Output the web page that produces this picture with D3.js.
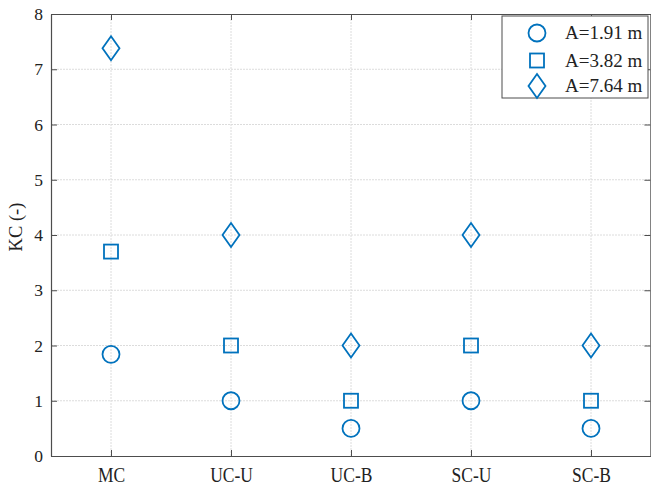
<!DOCTYPE html>
<html>
<head>
<meta charset="utf-8">
<script src="https://cdn.jsdelivr.net/npm/d3@7"></script>
<style>
  html, body { margin: 0; padding: 0; background: #fff; }
  svg { display: block; }
</style>
</head>
<body>
<svg id="chart" width="651" height="487"></svg>
<script>
// Configurations along the x axis
const categories = ["MC", "UC-U", "UC-B", "SC-U", "SC-B"];
// KC values for each amplitude
const kcA191 = [1.84, 1, 0.5, 1, 0.5];
const kcA382 = [3.70, 2, 1, 2, 1];
const kcA764 = [7.38, 4, 2, 4, 2];
const seriesNames = ["A=1.91 m", "A=3.82 m", "A=7.64 m"];
const yTicks = [0, 1, 2, 3, 4, 5, 6, 7, 8];

const svg = d3.select("#chart");
const W = 651, H = 487;
const m = { left: 51, right: 0, top: 14, bottom: 31 };
const color = "#0072BD";
const axisColor = "#4d4d4d";
const font = "'Liberation Serif', 'Times New Roman', serif";

const x = d3.scaleLinear().domain([0.5, categories.length + 0.5]).range([m.left, W - m.right]);
const y = d3.scaleLinear().domain([0, 8]).range([H - m.bottom, m.top]);

const g = svg.append("g");

// grid
g.append("g").selectAll("line").data(categories).join("line")
  .attr("x1", (d, i) => x(i + 1)).attr("x2", (d, i) => x(i + 1))
  .attr("y1", y(0)).attr("y2", y(8))
  .attr("stroke", "#dcdcdc").attr("stroke-width", 1).attr("stroke-dasharray", "2,1");
g.append("g").selectAll("line").data(yTicks.slice(1, -1)).join("line")
  .attr("x1", x.range()[0]).attr("x2", x.range()[1])
  .attr("y1", d => y(d)).attr("y2", d => y(d))
  .attr("stroke", "#dcdcdc").attr("stroke-width", 1).attr("stroke-dasharray", "2,1");

// axes (inward ticks on all four sides)
const xTickVals = categories.map((d, i) => i + 1);
const styleAxis = sel => {
  sel.selectAll("path").attr("stroke", axisColor).attr("stroke-width", 1.2);
  sel.selectAll("line").attr("stroke", axisColor).attr("stroke-width", 1);
  sel.selectAll("text").attr("font-family", font).attr("fill", "#222");
};

const xb = g.append("g").attr("transform", `translate(0,${y(0)})`)
  .call(d3.axisBottom(x).tickValues(xTickVals).tickFormat(d => categories[d - 1])
    .tickSizeInner(-6).tickSizeOuter(0).tickPadding(9.3));
styleAxis(xb);
// slightly tall lettering for the category labels
xb.selectAll("text").attr("font-size", 17.5).attr("transform", "scale(1,1.2)");

const xt = g.append("g").attr("transform", `translate(0,${y(8)})`)
  .call(d3.axisTop(x).tickValues(xTickVals).tickFormat("").tickSizeInner(-6).tickSizeOuter(0));
styleAxis(xt);

const yl = g.append("g").attr("transform", `translate(${x.range()[0]},0)`)
  .call(d3.axisLeft(y).tickValues(yTicks).tickFormat(d3.format("d"))
    .tickSizeInner(-6).tickSizeOuter(0).tickPadding(8));
styleAxis(yl);
yl.selectAll("text").attr("font-size", 17.5);

const yr = g.append("g").attr("transform", `translate(${x.range()[1] - 0.6},0)`)
  .call(d3.axisRight(y).tickValues(yTicks).tickFormat("").tickSizeInner(-6).tickSizeOuter(0));
styleAxis(yr);

// y label
g.append("text")
  .attr("transform", "translate(22,227) rotate(-90)")
  .attr("text-anchor", "middle")
  .attr("font-family", font).attr("font-size", 18.5).attr("fill", "#222")
  .text("KC (-)");

// marker shapes
const circleMark = (sel) => sel.append("circle").attr("r", 8.5);
const squareMark = (sel) => sel.append("rect").attr("x", -7).attr("y", -7).attr("width", 14).attr("height", 14);
const diamondMark = (sel) => sel.append("path").attr("d", "M0,-12L8.5,0L0,12L-8.5,0Z");
const markers = [circleMark, squareMark, diamondMark];
const series = [kcA191, kcA382, kcA764];

series.forEach((vals, si) => {
  const pts = g.append("g").selectAll("g").data(vals).join("g")
    .attr("transform", (d, i) => `translate(${x(i + 1)},${y(d)})`);
  markers[si](pts);
  pts.selectAll("*").attr("fill", "none").attr("stroke", color).attr("stroke-width", 1.8);
});

// legend
const lg = g.append("g").attr("transform", "translate(502,16)");
lg.append("rect").attr("width", 146).attr("height", 82)
  .attr("fill", "#fff").attr("stroke", axisColor).attr("stroke-width", 1);
const rowY = [17, 44.5, 70];
seriesNames.forEach((name, si) => {
  const row = lg.append("g").attr("transform", `translate(35,${rowY[si]})`);
  markers[si](row);
  row.selectAll("*").attr("fill", "none").attr("stroke", color).attr("stroke-width", 1.8);
  lg.append("text").attr("x", 63).attr("y", rowY[si] + 6)
    .attr("font-family", font).attr("font-size", 19).attr("fill", "#222")
    .text(name);
});
</script>
</body>
</html>
